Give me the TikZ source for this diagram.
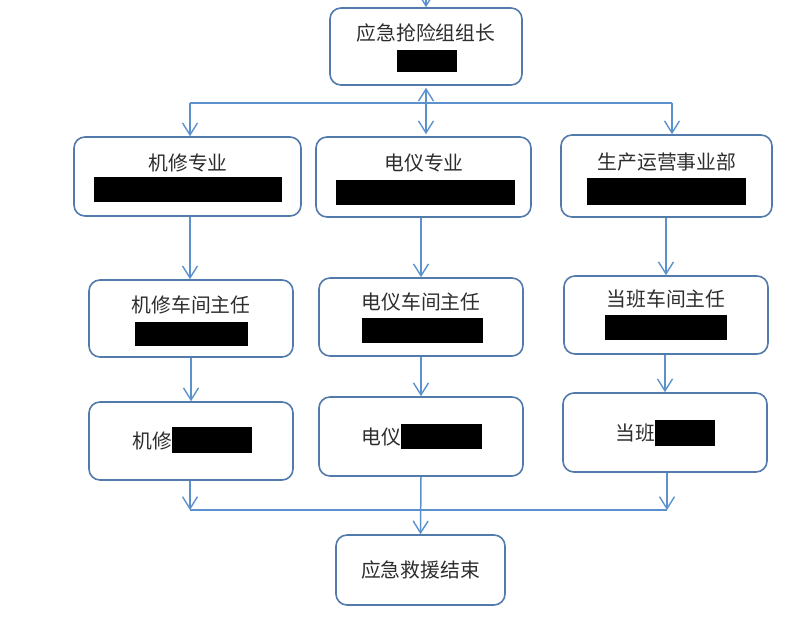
\documentclass[tikz,border=0pt]{standalone}
\usepackage{fontspec}
\usepackage{xcolor}
\usepackage{tikz}
\usetikzlibrary{arrows.meta}
\newfontfamily\cjk{Noto Sans CJK SC}

\definecolor{linkblue}{RGB}{91,146,205}
\definecolor{boxblue}{RGB}{82,122,170}
\definecolor{txtgray}{RGB}{45,45,45}

\begin{document}
\begin{tikzpicture}[x=1pt, y=-1pt,
  box/.style={draw=boxblue, line width=1.6pt, rounded corners=11pt, inner sep=0pt},
  lbl/.style={text=txtgray, font=\cjk\fontsize{19.8}{22}\selectfont, inner sep=0pt},
  bar/.style={fill=black, inner sep=0pt},
  link/.style={draw=linkblue, line width=1.5pt},
  flow/.style={link, -{Straight Barb[length=12pt,width=15pt,line width=1.4pt]}}]
  \useasboundingbox (0,0) rectangle (800,619);

  % boxes
  \node[box, minimum width=192pt, minimum height=77pt] (lead) at (426,46.5) {};
  \node[box, minimum width=227pt, minimum height=79pt] (jx1) at (187.5,176.5) {};
  \node[box, minimum width=215pt, minimum height=80pt] (dy1) at (423.5,177) {};
  \node[box, minimum width=211pt, minimum height=82pt] (sc1) at (666.5,176) {};
  \node[box, minimum width=204pt, minimum height=77pt] (jx2) at (191,318.5) {};
  \node[box, minimum width=204pt, minimum height=78pt] (dy2) at (421,317) {};
  \node[box, minimum width=204pt, minimum height=78pt] (sc2) at (666,315) {};
  \node[box, minimum width=204pt, minimum height=78pt] (jx3) at (191,441) {};
  \node[box, minimum width=204pt, minimum height=79pt] (dy3) at (421,436.5) {};
  \node[box, minimum width=204pt, minimum height=79pt] (sc3) at (665,432.5) {};
  \node[box, minimum width=169pt, minimum height=70pt] (done) at (420.5,570) {};

  % texts
  \node[lbl] (leadt) at (426,33) {应急抢险组组长};
  \node[bar, minimum width=60pt, minimum height=22pt] (leadb) at (427,61) {};
  \node[lbl] (jx1t) at (188,163) {机修专业};
  \node[bar, minimum width=188pt, minimum height=25pt] (jx1b) at (188,189.5) {};
  \node[lbl] (dy1t) at (424,163) {电仪专业};
  \node[bar, minimum width=179pt, minimum height=25pt] (dy1b) at (425.5,192.5) {};
  \node[lbl] (sc1t) at (667,162) {生产运营事业部};
  \node[bar, minimum width=159pt, minimum height=27pt] (sc1b) at (666.5,191.5) {};
  \node[lbl] (jx2t) at (191,305) {机修车间主任};
  \node[bar, minimum width=113pt, minimum height=24pt] (jx2b) at (191.5,334) {};
  \node[lbl] (dy2t) at (421,302) {电仪车间主任};
  \node[bar, minimum width=121pt, minimum height=25pt] (dy2b) at (422.5,330.5) {};
  \node[lbl] (sc2t) at (666,299) {当班车间主任};
  \node[bar, minimum width=122pt, minimum height=25pt] (sc2b) at (666,327.5) {};
  \node[lbl, anchor=east] (jx3t) at (172,441) {机修};
  \node[bar, minimum width=80pt, minimum height=26pt] (jx3b) at (212,440) {};
  \node[lbl, anchor=east] (dy3t) at (401,437) {电仪};
  \node[bar, minimum width=81pt, minimum height=25pt] (dy3b) at (441.5,436.5) {};
  \node[lbl, anchor=east] (sc3t) at (655,433) {当班};
  \node[bar, minimum width=60pt, minimum height=26pt] (sc3b) at (685,433) {};
  \node[lbl] (donet) at (420.5,570) {应急救援结束};

  % connectors
  \coordinate (entry) at (426,0);
  \coordinate (busl) at (190,103);
  \coordinate (busr) at (672,103);
  \coordinate (joinl) at (190,510);
  \coordinate (joinr) at (667,510);

  \draw[flow] (entry) -- (lead.north);
  \draw[link] (busl) -- (busr);
  \draw[flow, {Straight Barb[length=12pt,width=15pt,line width=1.4pt]}-{Straight Barb[length=12pt,width=15pt,line width=1.4pt]}]
    ([yshift=-2pt]lead.south) -- ([yshift=2pt]lead.south |- dy1.north);
  \draw[flow] (busl) -- (busl |- jx1.north);
  \draw[flow] (busr) -- (busr |- sc1.north);

  \draw[flow] (190,0 |- jx1.south) -- (190,0 |- jx2.north);
  \draw[flow] (dy1.south -| dy2) -- (dy2.north);
  \draw[flow] (sc1.south -| sc2) -- (sc2.north);
  \draw[flow] (jx2.south -| jx3) -- (jx3.north);
  \draw[flow] (dy2.south) -- (dy3.north);
  \draw[flow] (sc2.south -| sc3) -- (sc3.north);

  \draw[flow] (joinl |- jx3.south) -- (joinl);
  \draw[flow] (joinr |- sc3.south) -- (joinr);
  \draw[link] (joinl) -- (joinr);
  \draw[flow] (dy3.south) -- (done.north);
\end{tikzpicture}
\end{document}
